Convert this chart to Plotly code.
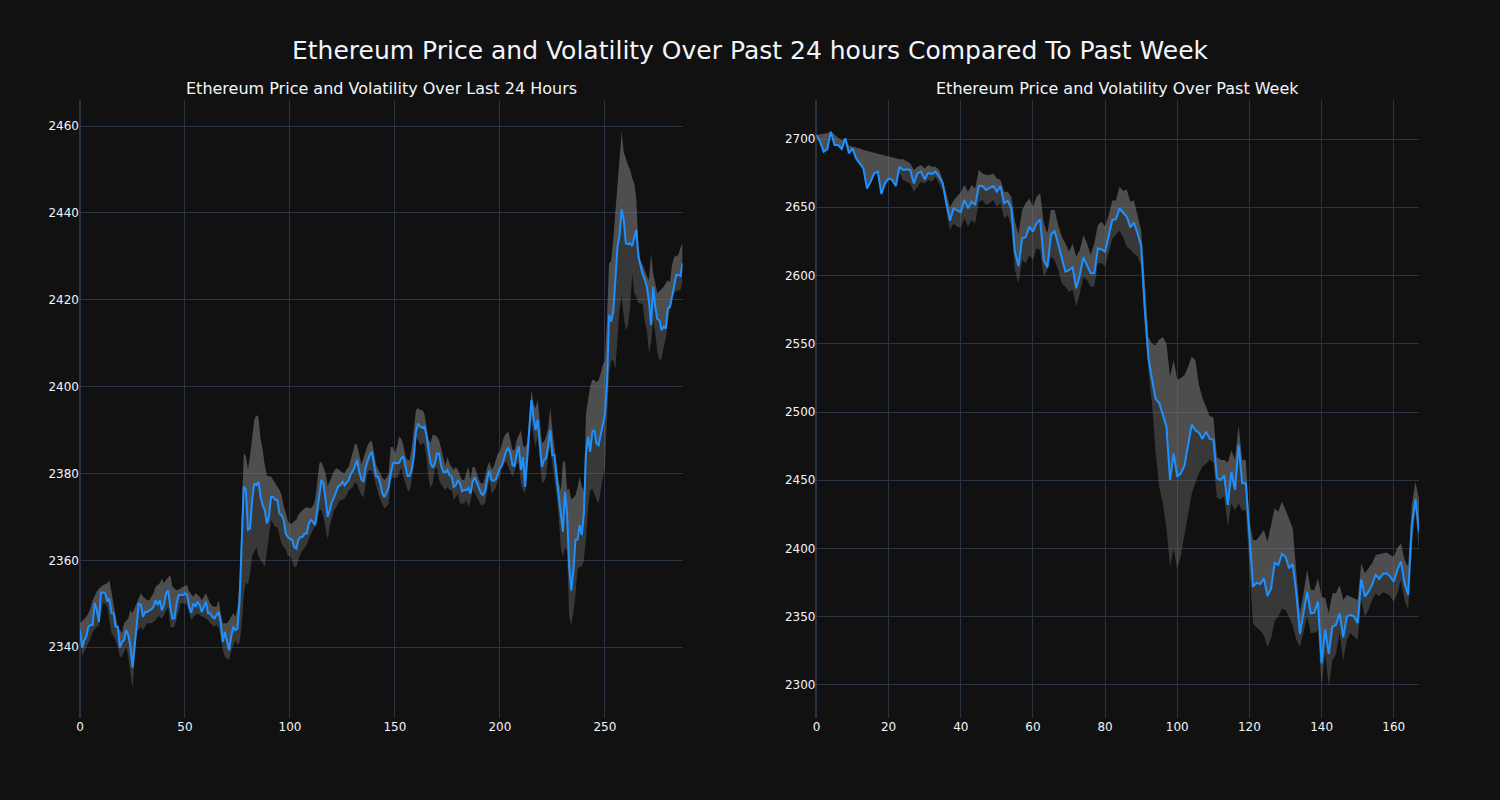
import plotly.graph_objects as go
from plotly.subplots import make_subplots

# ---------------- Last 24 hours (5-minute steps) ----------------
day_price = [
    2343.9, 2339.9, 2341.6, 2342.4, 2344.7, 2345.1, 2345.1, 2350.2, 2348.5, 2345.8,
    2352.6, 2352.6, 2352.4, 2350.5, 2351.2, 2347.8, 2347.8, 2344.7, 2344.7, 2339.9,
    2341.2, 2341.6, 2343.9, 2342.8, 2340.1, 2335.3, 2340.1, 2345.5, 2350.1, 2349.7,
    2347.0, 2348.1, 2348.1, 2348.5, 2348.7, 2349.3, 2350.8, 2349.7, 2350.8, 2348.5,
    2349.7, 2352.4, 2353.1, 2349.3, 2346.6, 2346.6, 2350.1, 2352.0, 2352.0, 2352.0,
    2352.4, 2352.0, 2349.3, 2347.9, 2350.1, 2349.3, 2350.5, 2349.7, 2348.1, 2349.3,
    2350.5, 2347.8, 2347.8, 2347.0, 2346.6, 2347.4, 2348.1, 2345.8, 2341.2, 2343.5,
    2341.6, 2339.3, 2342.4, 2344.7, 2343.9, 2344.3, 2350.5, 2365.0, 2377.0, 2376.2,
    2367.0, 2367.3, 2373.9, 2377.7, 2377.3, 2378.1, 2374.6, 2372.7, 2371.6, 2368.5,
    2370.0, 2374.6, 2374.6, 2373.9, 2373.9, 2370.8, 2370.4, 2369.3, 2366.2, 2365.3,
    2365.0, 2364.7, 2363.1, 2362.7, 2364.7, 2365.4, 2365.4, 2366.2, 2366.2, 2368.5,
    2369.3, 2368.9, 2368.1, 2371.2, 2374.6, 2378.5, 2377.7, 2373.9, 2370.0, 2371.6,
    2373.5, 2374.5, 2375.8, 2377.1, 2377.3, 2378.1, 2377.3, 2377.9, 2378.5, 2379.9,
    2380.6, 2381.7, 2383.1, 2380.4, 2378.6, 2378.1, 2381.2, 2382.9, 2384.2, 2385.0,
    2382.3, 2379.4, 2379.2, 2377.7, 2375.4, 2374.6, 2375.6, 2376.8, 2380.0, 2382.3,
    2382.5, 2382.3, 2382.5, 2383.5, 2384.0, 2381.9, 2379.4, 2379.4, 2380.8, 2383.8,
    2389.6, 2391.5, 2390.8, 2390.5, 2390.8, 2388.8, 2385.8, 2382.3, 2381.4, 2382.2,
    2384.6, 2384.6, 2381.9, 2380.4, 2380.2, 2380.8, 2379.6, 2379.4, 2376.9, 2377.3,
    2378.5, 2377.7, 2375.9, 2376.2, 2376.2, 2376.6, 2375.4, 2378.1, 2379.1, 2377.7,
    2376.6, 2375.4, 2375.0, 2376.0, 2378.9, 2380.6, 2378.5, 2378.3, 2378.6, 2380.0,
    2381.2, 2381.9, 2383.8, 2385.2, 2385.8, 2384.6, 2381.9, 2381.7, 2384.6, 2386.3,
    2380.8, 2383.8, 2376.9, 2383.8, 2390.8, 2396.9, 2392.8, 2390.0, 2392.3, 2387.5,
    2381.5, 2383.1, 2383.5, 2386.5, 2390.0, 2384.2, 2384.2, 2379.2, 2375.0, 2369.3,
    2366.6, 2375.8, 2370.8, 2358.5, 2353.1, 2357.7, 2364.7, 2364.8, 2368.1, 2365.8,
    2370.8, 2384.6, 2388.5, 2385.0, 2389.6, 2390.0, 2386.9, 2386.5, 2388.8, 2391.9,
    2393.5, 2400.5, 2416.5, 2415.0, 2417.3, 2424.6, 2432.2, 2434.9, 2440.8, 2438.4,
    2433.0, 2432.8, 2433.0, 2432.4, 2434.1, 2436.1, 2429.9, 2427.6, 2425.9, 2424.7,
    2423.0, 2419.6, 2414.2, 2423.0, 2418.4, 2415.5, 2415.3, 2413.0, 2413.8, 2413.4,
    2418.0, 2418.3, 2420.7, 2423.9, 2425.7, 2425.7, 2425.5, 2428.4,
]
day_upper = [
    2345.5, 2346.0, 2346.5, 2347.0, 2347.8, 2349.0, 2350.8, 2352.0, 2352.8, 2353.5,
    2354.0, 2354.3, 2354.5, 2354.7, 2355.4, 2352.4, 2350.1, 2347.0, 2344.7, 2344.0,
    2343.2, 2345.5, 2346.0, 2346.6, 2348.5, 2347.8, 2349.0, 2350.1, 2351.6, 2352.4,
    2351.6, 2351.2, 2350.8, 2350.8, 2351.6, 2352.4, 2353.9, 2354.3, 2354.7, 2355.8,
    2354.7, 2355.5, 2356.2, 2356.6, 2353.9, 2353.5, 2353.1, 2353.3, 2353.5, 2353.9,
    2354.1, 2354.3, 2352.8, 2352.2, 2351.6, 2352.4, 2352.0, 2351.6, 2350.8, 2351.6,
    2352.4, 2351.2, 2350.1, 2349.5, 2349.3, 2349.3, 2350.8, 2348.0, 2345.5, 2345.5,
    2345.5, 2346.2, 2347.0, 2347.8, 2347.0, 2349.0, 2355.0, 2372.0, 2384.6, 2384.0,
    2381.0, 2384.0, 2389.0, 2392.3, 2393.4, 2393.0, 2388.0, 2385.5, 2382.0, 2379.5,
    2379.3, 2379.3, 2378.5, 2377.7, 2377.0, 2376.2, 2375.0, 2372.5, 2371.0, 2369.0,
    2368.5, 2368.5, 2369.0, 2369.3, 2370.5, 2371.2, 2371.6, 2372.0, 2372.3, 2372.0,
    2372.0, 2372.5, 2374.0, 2378.0, 2382.3, 2382.7, 2381.5, 2380.0, 2377.0, 2378.5,
    2379.5, 2380.5, 2381.2, 2381.0, 2380.5, 2380.2, 2380.0, 2381.0, 2381.5, 2383.0,
    2385.0, 2386.9, 2386.5, 2384.5, 2382.0, 2383.5, 2385.0, 2386.5, 2387.3, 2387.5,
    2385.0, 2382.0, 2381.0, 2380.0, 2379.0, 2378.5, 2379.0, 2380.0, 2386.1, 2386.1,
    2384.6, 2386.1, 2388.5, 2388.0, 2386.5, 2384.0, 2383.1, 2383.1, 2385.8, 2390.0,
    2394.6, 2395.0, 2394.6, 2394.6, 2393.8, 2391.0, 2388.0, 2387.0, 2389.0, 2388.8,
    2388.5, 2387.7, 2385.8, 2383.8, 2381.8, 2383.8, 2382.3, 2381.5, 2380.8, 2381.5,
    2380.8, 2379.5, 2378.5, 2378.5, 2380.0, 2381.5, 2378.5, 2381.5, 2381.5, 2380.0,
    2378.5, 2377.7, 2377.7, 2379.2, 2381.5, 2382.7, 2381.0, 2381.5, 2383.1, 2384.6,
    2385.0, 2386.9, 2388.5, 2389.2, 2389.6, 2387.7, 2385.4, 2385.4, 2387.7, 2388.8,
    2389.9, 2386.5, 2386.0, 2387.0, 2393.0, 2399.2, 2396.1, 2395.0, 2397.0, 2392.0,
    2387.0, 2387.3, 2388.5, 2390.5, 2395.0, 2390.0, 2386.0, 2382.0, 2378.0, 2376.0,
    2382.5, 2383.0, 2376.2, 2376.5, 2374.0, 2374.5, 2375.0, 2376.9, 2379.2, 2377.0,
    2376.0, 2393.8, 2397.0, 2400.0, 2401.5, 2401.5, 2401.0, 2401.5, 2403.0, 2405.0,
    2406.0, 2415.3, 2428.4, 2429.0, 2434.0, 2440.0, 2448.0, 2454.0, 2458.7, 2454.0,
    2452.2, 2451.0, 2450.0, 2448.0, 2446.8, 2443.0, 2432.0, 2429.0, 2428.0, 2426.5,
    2425.5, 2424.5, 2430.7, 2426.0, 2423.5, 2421.5, 2422.0, 2422.5, 2423.0, 2423.8,
    2424.5, 2424.0, 2428.0, 2429.9, 2430.0, 2430.3, 2432.0, 2433.0,
]
day_lower = [
    2342.8, 2338.0, 2339.0, 2340.0, 2340.9, 2342.0, 2343.5, 2344.0, 2344.7, 2344.7,
    2347.0, 2350.1, 2350.0, 2349.3, 2346.2, 2343.2, 2342.4, 2341.6, 2340.0, 2337.8,
    2337.8, 2339.0, 2340.1, 2337.8, 2334.0, 2330.5, 2337.0, 2343.5, 2344.0, 2344.7,
    2343.9, 2344.7, 2345.5, 2345.5, 2345.5, 2345.8, 2346.2, 2347.0, 2347.0, 2346.5,
    2347.4, 2348.3, 2349.3, 2344.7, 2344.5, 2344.7, 2346.6, 2348.5, 2350.1, 2350.1,
    2350.1, 2349.7, 2347.8, 2346.2, 2347.0, 2347.4, 2347.8, 2347.4, 2347.0, 2347.0,
    2346.6, 2346.2, 2345.5, 2345.1, 2344.7, 2345.1, 2344.5, 2342.4, 2339.5, 2337.8,
    2337.4, 2337.0, 2339.0, 2340.3, 2341.6, 2340.5, 2341.0, 2345.0, 2352.0, 2355.0,
    2354.3, 2357.0, 2361.0, 2362.0, 2363.0, 2361.0, 2360.0, 2359.5, 2358.5, 2362.0,
    2366.0, 2369.3, 2368.5, 2367.7, 2367.7, 2366.0, 2363.8, 2363.1, 2362.5, 2361.0,
    2361.0, 2360.0, 2358.5, 2358.5, 2360.0, 2361.5, 2362.3, 2363.0, 2363.5, 2365.0,
    2366.0, 2367.0, 2368.0, 2369.0, 2371.6, 2371.6, 2370.0, 2367.7, 2364.7, 2368.0,
    2370.0, 2371.5, 2372.3, 2373.0, 2373.9, 2373.9, 2374.3, 2375.0, 2376.0, 2376.5,
    2376.9, 2378.0, 2377.5, 2376.2, 2375.0, 2374.5, 2378.0, 2380.4, 2380.8, 2380.7,
    2379.0, 2377.0, 2375.5, 2374.0, 2373.0, 2372.0, 2372.3, 2373.0, 2378.5, 2379.2,
    2378.9, 2379.0, 2380.0, 2381.5, 2379.2, 2377.5, 2376.2, 2375.8, 2378.5, 2382.3,
    2388.5, 2387.7, 2386.5, 2386.9, 2386.9, 2383.8, 2378.9, 2376.6, 2377.7, 2380.8,
    2381.5, 2378.5, 2377.5, 2376.9, 2376.2, 2376.9, 2376.2, 2376.2, 2373.9, 2374.6,
    2375.4, 2373.1, 2373.1, 2373.1, 2373.9, 2372.3, 2373.5, 2376.2, 2375.5, 2374.5,
    2373.5, 2372.7, 2372.7, 2373.1, 2376.2, 2378.5, 2375.4, 2376.0, 2376.6, 2378.5,
    2379.2, 2381.2, 2382.3, 2382.7, 2381.5, 2380.0, 2379.2, 2380.5, 2382.3, 2382.3,
    2377.7, 2376.2, 2375.4, 2380.0, 2386.9, 2392.3, 2388.5, 2386.1, 2388.5, 2384.0,
    2378.0, 2378.0, 2379.5, 2384.0, 2386.0, 2382.0, 2379.0, 2375.0, 2370.0, 2363.0,
    2360.8, 2363.0, 2362.0, 2347.0, 2345.1, 2348.0, 2352.0, 2358.0, 2358.5, 2358.5,
    2360.0, 2365.0, 2372.0, 2376.0, 2376.5, 2375.0, 2374.0, 2373.1, 2376.0, 2379.2,
    2381.0, 2393.0, 2403.0, 2406.0, 2406.0, 2404.0, 2412.0, 2418.0, 2421.0, 2416.0,
    2413.0, 2414.0, 2418.0, 2426.0, 2421.5, 2420.7, 2419.2, 2419.2, 2419.0, 2415.0,
    2413.0, 2407.7, 2410.0, 2415.3, 2412.3, 2408.0, 2406.1, 2406.5, 2409.0, 2411.0,
    2415.0, 2418.0, 2420.5, 2421.5, 2422.0, 2422.2, 2422.2, 2424.5,
]

# ---------------- Past week (hourly steps) ----------------
week_price = [
    2702.9, 2698.0, 2690.7, 2692.4, 2705.4, 2695.6, 2695.6, 2692.7, 2700.5, 2689.5,
    2693.1, 2685.8, 2682.2, 2678.5, 2663.8, 2668.7, 2674.8, 2676.1, 2659.7, 2667.5,
    2671.2, 2669.9, 2665.6, 2679.7, 2677.3, 2677.8, 2677.3, 2667.5, 2674.8, 2676.1,
    2670.4, 2675.3, 2674.3, 2676.1, 2672.4, 2667.5, 2652.9, 2640.2, 2649.2, 2648.0,
    2646.4, 2655.3, 2649.2, 2654.1, 2651.6, 2665.6, 2665.6, 2662.6, 2663.8, 2665.6,
    2661.4, 2665.6, 2652.9, 2654.8, 2649.2, 2617.4, 2606.9, 2627.2, 2628.0, 2635.8,
    2632.1, 2638.2, 2641.1, 2611.3, 2606.0, 2629.7, 2632.8, 2622.3, 2611.8, 2602.8,
    2604.0, 2606.0, 2590.6, 2600.4, 2613.3, 2607.7, 2601.6, 2601.6, 2619.9, 2619.2,
    2617.5, 2629.0, 2640.7, 2641.2, 2649.2, 2646.0, 2643.1, 2635.3, 2638.7, 2630.9,
    2621.6, 2575.0, 2540.0, 2524.0, 2509.5, 2506.7, 2498.8, 2489.3, 2450.2, 2469.5,
    2452.6, 2455.1, 2460.6, 2474.6, 2490.8, 2486.5, 2485.0, 2480.3, 2485.6, 2480.1,
    2479.8, 2451.6, 2450.0, 2453.5, 2431.9, 2456.0, 2442.9, 2475.9, 2447.8, 2447.8,
    2408.7, 2372.1, 2374.8, 2374.0, 2378.2, 2365.2, 2370.8, 2389.6, 2387.9, 2396.0,
    2394.0, 2385.5, 2388.6, 2367.2, 2337.4, 2352.5, 2368.4, 2352.5, 2353.0, 2361.1,
    2315.9, 2340.8, 2322.7, 2342.7, 2344.0, 2352.5, 2334.9, 2350.1, 2351.3, 2350.1,
    2345.2, 2377.4, 2364.7, 2368.4, 2373.3, 2380.6, 2377.7, 2381.3, 2381.8, 2379.4,
    2375.7, 2384.3, 2390.6, 2374.5, 2365.9, 2416.0, 2436.0, 2412.3,
]
week_upper = [
    2703.0, 2703.5, 2704.0, 2704.2, 2705.5, 2703.0, 2701.0, 2699.0, 2700.5, 2695.0,
    2694.5, 2693.7, 2693.0, 2692.0, 2691.3, 2690.5, 2689.8, 2689.0, 2688.3, 2687.6,
    2687.0, 2686.3, 2685.7, 2685.1, 2685.1, 2683.4, 2682.2, 2677.3, 2679.7, 2681.0,
    2678.5, 2681.0, 2679.7, 2679.7, 2677.3, 2670.0, 2660.2, 2649.9, 2655.0, 2658.0,
    2661.0, 2666.3, 2661.4, 2666.3, 2663.8, 2677.3, 2674.8, 2673.6, 2673.6, 2674.8,
    2671.2, 2670.0, 2661.4, 2661.4, 2657.7, 2640.0, 2630.0, 2648.0, 2652.9, 2656.5,
    2650.4, 2657.7, 2660.2, 2638.2, 2630.9, 2648.0, 2648.0, 2637.0, 2628.4, 2623.5,
    2617.4, 2623.5, 2613.8, 2618.7, 2629.7, 2623.5, 2615.0, 2623.5, 2637.0, 2639.4,
    2636.0, 2644.0, 2655.0, 2655.0, 2665.0, 2662.0, 2663.0, 2654.0, 2655.0, 2644.0,
    2633.0, 2595.0, 2555.0, 2550.0, 2549.0, 2553.0, 2555.0, 2550.0, 2526.0, 2538.0,
    2523.5, 2525.0, 2527.0, 2533.0, 2540.6, 2538.0, 2520.0, 2510.0, 2503.0, 2497.0,
    2496.0, 2467.0, 2465.0, 2464.8, 2463.0, 2472.0, 2465.0, 2490.0, 2465.0, 2464.8,
    2420.0, 2406.0, 2406.2, 2409.9, 2413.6, 2405.0, 2418.4, 2429.4, 2427.0, 2434.3,
    2428.2, 2420.9, 2414.8, 2381.8, 2352.5, 2367.2, 2384.3, 2369.6, 2369.6, 2378.2,
    2364.7, 2363.5, 2352.5, 2367.2, 2367.2, 2373.3, 2362.3, 2366.0, 2364.7, 2363.5,
    2362.3, 2389.1, 2381.8, 2385.5, 2389.1, 2395.3, 2396.0, 2396.5, 2397.0, 2395.3,
    2394.0, 2400.1, 2403.8, 2391.6, 2386.7, 2430.7, 2449.0, 2435.5,
]
week_lower = [
    2702.4, 2697.5, 2690.2, 2691.9, 2704.9, 2695.1, 2695.1, 2692.2, 2700.0, 2689.0,
    2692.6, 2685.3, 2681.7, 2678.0, 2663.3, 2668.2, 2674.3, 2675.6, 2659.2, 2667.0,
    2670.7, 2669.4, 2665.1, 2675.0, 2670.0, 2668.7, 2667.5, 2661.4, 2665.0, 2668.7,
    2667.5, 2670.0, 2668.7, 2672.4, 2667.5, 2662.6, 2648.0, 2633.3, 2638.2, 2635.8,
    2635.0, 2641.9, 2635.8, 2640.6, 2638.2, 2654.1, 2655.3, 2651.6, 2652.9, 2655.3,
    2650.4, 2652.9, 2641.9, 2644.3, 2635.8, 2604.0, 2594.2, 2611.3, 2608.9, 2615.0,
    2611.3, 2619.9, 2618.7, 2599.1, 2604.0, 2613.8, 2611.3, 2604.0, 2594.2, 2591.8,
    2588.1, 2589.4, 2577.2, 2586.9, 2599.1, 2596.7, 2591.8, 2591.8, 2608.9, 2608.9,
    2606.5, 2617.0, 2627.0, 2630.0, 2633.0, 2628.0, 2621.0, 2619.0, 2616.0, 2614.0,
    2607.0, 2565.0, 2530.0, 2506.0, 2470.0, 2445.0, 2433.0, 2415.0, 2386.7, 2400.0,
    2384.3, 2395.0, 2410.0, 2425.0, 2440.0, 2448.0, 2455.0, 2460.0, 2462.0, 2465.0,
    2463.0, 2437.0, 2436.0, 2438.0, 2416.0, 2433.0, 2428.0, 2433.0, 2428.0, 2428.0,
    2390.0, 2345.0, 2342.0, 2340.0, 2336.0, 2328.0, 2334.0, 2347.0, 2350.0, 2356.0,
    2355.0, 2350.0, 2343.0, 2333.0, 2328.0, 2338.0, 2350.0, 2338.0, 2338.0, 2340.0,
    2298.8, 2323.0, 2299.0, 2318.0, 2323.0, 2338.0, 2318.0, 2333.0, 2338.0, 2335.5,
    2333.0, 2362.0, 2350.0, 2355.0, 2362.0, 2367.0, 2365.0, 2368.0, 2367.0, 2365.0,
    2361.0, 2367.0, 2377.0, 2362.0, 2355.0, 2401.5, 2428.0, 2396.5,
]

day_x = list(range(len(day_price)))
week_x = list(range(len(week_price)))

main_title = "Ethereum Price and Volatility Over Past 24 hours Compared To Past Week"
sub_titles = ("Ethereum Price and Volatility Over Last 24 Hours",
              "Ethereum Price and Volatility Over Past Week")

LINE_COLOR = "#1E90FF"
BAND_COLOR = "rgba(128,128,128,0.35)"
UPPER_COLOR = "rgba(128,128,128,0.30)"
FONT = "DejaVu Sans"

fig = make_subplots(rows=1, cols=2, subplot_titles=sub_titles, horizontal_spacing=0.1)


def add_panel(col, x, price, upper, lower):
    common = dict(mode="lines", showlegend=False, hoverinfo="skip")
    fig.add_trace(go.Scatter(x=x, y=lower, line=dict(width=0, color="rgba(0,0,0,0)"), **common),
                  row=1, col=col)
    fig.add_trace(go.Scatter(x=x, y=upper, line=dict(width=0, color="rgba(0,0,0,0)"),
                             fill="tonexty", fillcolor=BAND_COLOR, **common), row=1, col=col)
    fig.add_trace(go.Scatter(x=x, y=price, line=dict(width=0, color="rgba(0,0,0,0)"), **common),
                  row=1, col=col)
    fig.add_trace(go.Scatter(x=x, y=upper, line=dict(width=0, color="rgba(0,0,0,0)"),
                             fill="tonexty", fillcolor=UPPER_COLOR, **common), row=1, col=col)
    fig.add_trace(go.Scatter(x=x, y=price, mode="lines", showlegend=False,
                             line=dict(color=LINE_COLOR, width=2)), row=1, col=col)


add_panel(1, day_x, day_price, day_upper, day_lower)
add_panel(2, week_x, week_price, week_upper, week_lower)

fig.update_layout(
    template="plotly_dark",
    width=1500, height=800,
    margin=dict(l=80, r=81, t=100, b=82),
    font=dict(family=FONT, size=12),
    title=dict(text=main_title, x=0.5, xanchor="center", y=0.9375, yanchor="middle",
               font=dict(size=25, family=FONT)),
    showlegend=False,
)
for ann in fig.layout.annotations:
    ann.font.size = 16
    ann.font.family = FONT

fig.update_xaxes(range=[0, 287], tickvals=[0, 50, 100, 150, 200, 250], row=1, col=1)
fig.update_xaxes(range=[0, 167], tickvals=[0, 20, 40, 60, 80, 100, 120, 140, 160], row=1, col=2)
fig.update_yaxes(range=[2323.7, 2466.0], tickvals=[2340, 2360, 2380, 2400, 2420, 2440, 2460],
                 row=1, col=1)
fig.update_yaxes(range=[2275.8, 2728.6],
                 tickvals=[2300, 2350, 2400, 2450, 2500, 2550, 2600, 2650, 2700], row=1, col=2)

fig.write_html("out.html",
               config={"displayModeBar": False},
               post_script="document.body.style.margin='0';document.body.style.background='#111111';")
